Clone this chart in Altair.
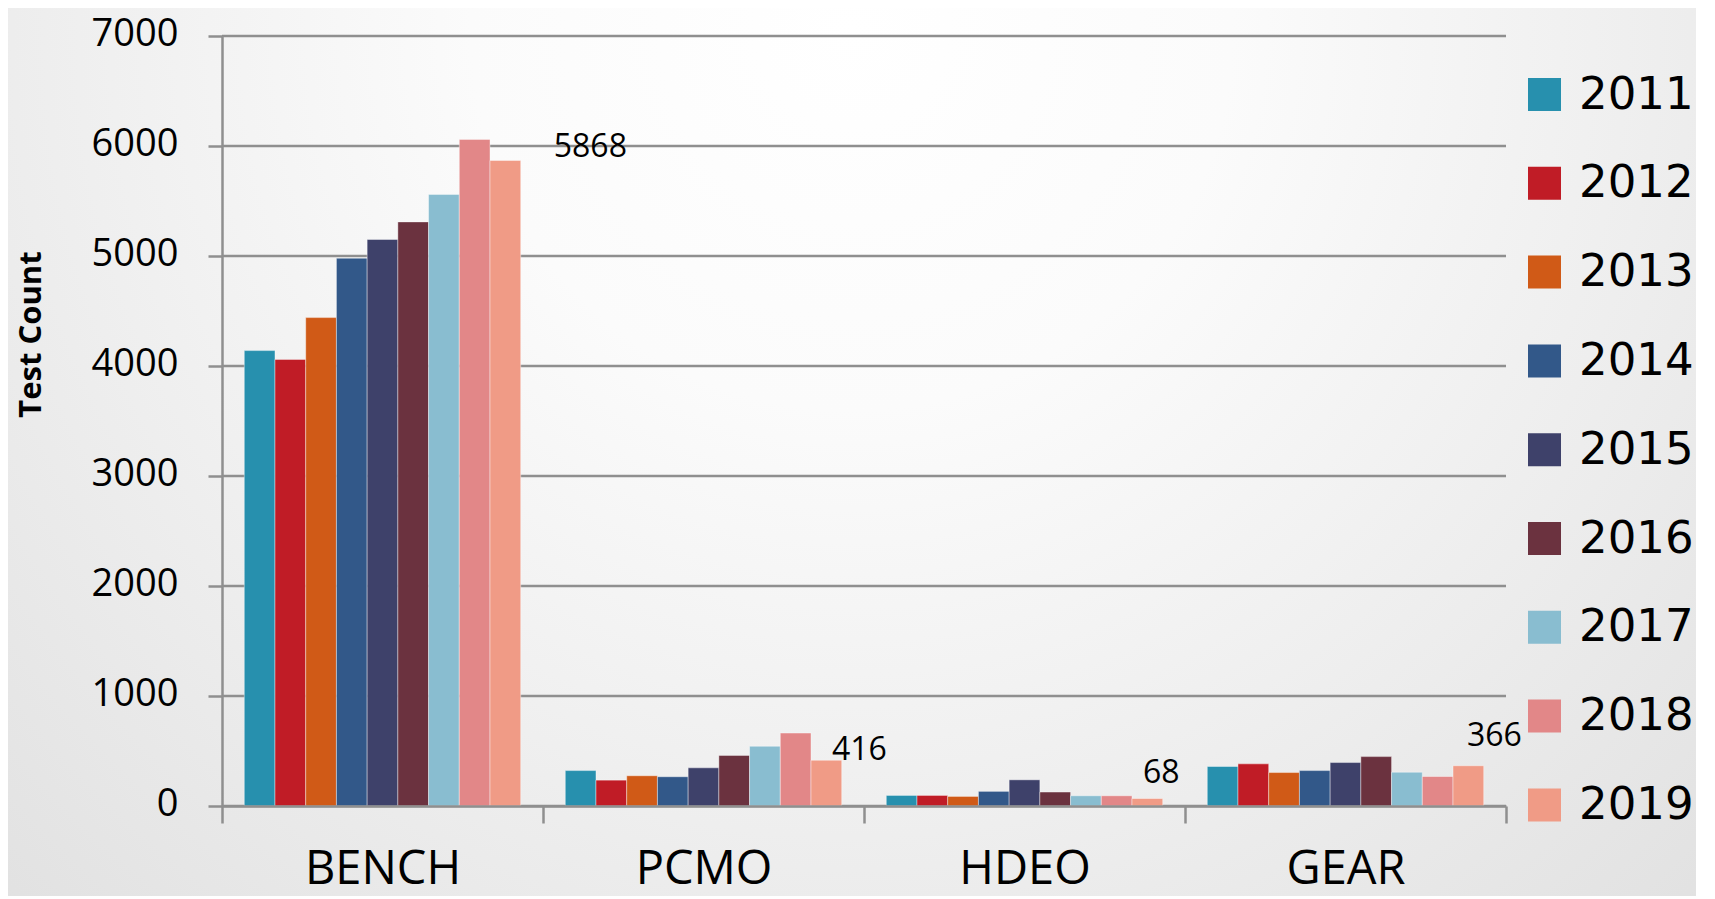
import altair as alt
import pandas as pd

# ---- data ----
categories = ["BENCH", "PCMO", "HDEO", "GEAR"]
years = ["2011", "2012", "2013", "2014", "2015", "2016", "2017", "2018", "2019"]
bench = [4140, 4060, 4440, 4980, 5150, 5310, 5560, 6060, 5868]
pcmo = [322, 235, 275, 266, 347, 460, 543, 663, 416]
hdeo = [96, 96, 87, 133, 238, 127, 93, 93, 68]
gear = [359, 383, 304, 322, 395, 449, 307, 268, 366]
y_ticks = [0, 1000, 2000, 3000, 4000, 5000, 6000, 7000]
labelled_year = "2019"

colors = ["#2790AE", "#C01C26", "#D05A17", "#325889", "#3E416A",
          "#6B323F", "#89BDD0", "#E28788", "#F09B86"]

series = {"BENCH": bench, "PCMO": pcmo, "HDEO": hdeo, "GEAR": gear}
rows = []
for cat in categories:
    for yr, v in zip(years, series[cat]):
        rows.append({"cat": cat, "year": yr, "value": v})
df = pd.DataFrame(rows)
grid_df = pd.DataFrame({"tick": y_ticks})

W, H = 1284, 770
PAD = {"left": 214, "top": 28, "right": 190, "bottom": 90}
GRAY = "#8f8f8f"

x_enc = alt.X("cat:N", sort=categories,
              scale=alt.Scale(paddingInner=0, paddingOuter=0),
              axis=alt.Axis(title=None, labelAngle=0, grid=False, zindex=1,
                            domain=True, domainColor=GRAY, domainWidth=2.5,
                            ticks=True, tickBand="extent", tickSize=17,
                            tickColor=GRAY, tickWidth=2.5,
                            labelFont="Liberation Sans Narrow, Open Sans",
                            labelFontSize=47, labelColor="#000000",
                            labelBaseline="alphabetic", labelPadding=60))
xoff_enc = alt.XOffset("year:N", sort=years,
                       scale=alt.Scale(paddingInner=0, paddingOuter=0.725))
y_scale = alt.Scale(domain=[0, 7000], nice=False)

# background (decoration)
bg = alt.Chart(alt.Data(values=[{}])).mark_rect(
    fill={"gradient": "radial", "x1": 0.5, "y1": 0.25, "x2": 0.5, "y2": 0.25,
          "r1": 0, "r2": 0.75,
          "stops": [{"offset": 0, "color": "#ffffff"},
                    {"offset": 0.3, "color": "#fbfbfb"},
                    {"offset": 1, "color": "#e0e0e0"}]}
).encode(x=alt.value(-PAD["left"]), x2=alt.value(W + PAD["right"]),
         y=alt.value(-PAD["top"]), y2=alt.value(H + PAD["bottom"]))

grid = alt.Chart(grid_df).mark_rule(color=GRAY, strokeWidth=2.5).encode(
    y=alt.Y("tick:Q", scale=y_scale)
)

bars = alt.Chart(df).mark_bar(stroke="#ffffff", strokeWidth=0.8,
                              strokeOpacity=0.5).encode(
    x=x_enc,
    xOffset=xoff_enc,
    y=alt.Y("value:Q", scale=y_scale,
            axis=alt.Axis(values=y_ticks, grid=False, title="Test Count",
                          format="d", zindex=1,
                          domain=True, domainColor=GRAY, domainWidth=2.5,
                          tickSize=14, tickColor=GRAY, tickWidth=2.5,
                          labelFont="Open Sans", labelFontSize=38,
                          labelColor="#000000", labelPadding=30,
                          labelOffset=-2,
                          titleFont="Open Sans", titleFontSize=31,
                          titleFontWeight="bold", titleColor="#000000",
                          titleAngle=270, titleX=-191, titleY=298,
                          titleAlign="center", titleBaseline="middle")),
    color=alt.Color("year:N", sort=years,
                    scale=alt.Scale(domain=years, range=colors),
                    legend=alt.Legend(title=None, orient="none",
                                      legendX=1300, legendY=36,
                                      symbolType="square", symbolSize=1089,
                                      symbolStrokeWidth=0,
                                      labelFont="DejaVu Sans",
                                      labelFontSize=45, labelColor="#000000",
                                      rowPadding=42.8, labelOffset=12,
                                      padding=0, labelLimit=300)),
)

# value labels on the last year of each group (offsets are styling)
label_offsets = {"BENCH": (85, -14), "PCMO": (33, -10),
                 "HDEO": (14, -26), "GEAR": (26, -30)}
label_layers = []
for cat in categories:
    dx, dy = label_offsets[cat]
    label_layers.append(
        alt.Chart(df).transform_filter(
            (alt.datum.cat == cat) & (alt.datum.year == labelled_year)
        ).mark_text(font="Open Sans", fontSize=32, color="#000000",
                    align="center", baseline="middle", dx=dx, dy=dy).encode(
            x=alt.X("cat:N", sort=categories,
                    scale=alt.Scale(paddingInner=0, paddingOuter=0)),
            xOffset=xoff_enc,
            y=alt.Y("value:Q", scale=y_scale),
            text=alt.Text("value:Q", format="d"),
        )
    )

chart = alt.layer(bg, grid, bars, *label_layers).properties(
    width=W, height=H, padding=PAD,
    autosize=alt.AutoSizeParams(type="none"),
).configure_view(stroke=None).configure(background="#e6e6e6")

chart.save("out.html", embed_options={"renderer": "svg", "actions": False})
